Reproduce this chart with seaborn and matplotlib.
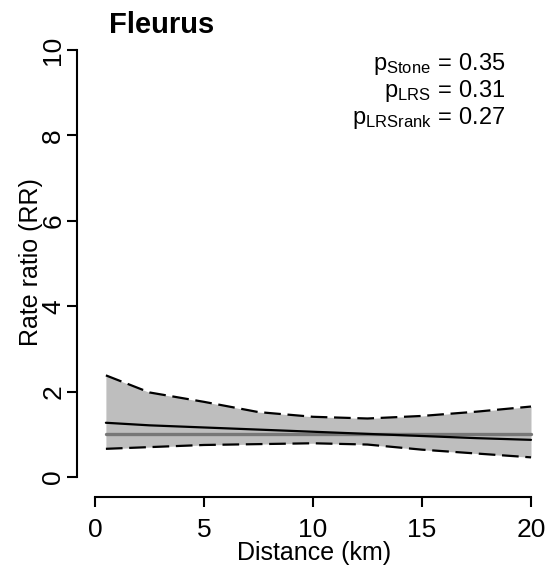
import matplotlib
matplotlib.use("Agg")
import matplotlib.pyplot as plt
import seaborn as sns
import pandas as pd

distance = [0.5, 2.5, 5, 7.5, 10, 12.5, 15, 17.5, 20]
rr = [1.27, 1.21, 1.16, 1.11, 1.06, 1.01, 0.96, 0.91, 0.87]
upper = [2.38, 1.98, 1.76, 1.52, 1.41, 1.37, 1.43, 1.53, 1.65]
lower = [0.66, 0.70, 0.75, 0.77, 0.79, 0.76, 0.64, 0.55, 0.46]
null_rr = [1.0] * len(distance)
xticks = [0, 5, 10, 15, 20]
yticks = [0, 2, 4, 6, 8, 10]
pvals = [("Stone", "0.35"), ("LRS", "0.31"), ("LRSrank", "0.27")]

sns.set_style("white")
plt.rcParams["font.family"] = ["Liberation Sans", "DejaVu Sans"]
plt.rcParams["mathtext.fontset"] = "custom"
plt.rcParams["mathtext.rm"] = "Liberation Sans"
plt.rcParams["mathtext.it"] = "Liberation Sans:italic"
plt.rcParams["mathtext.bf"] = "Liberation Sans:bold"
plt.rcParams["text.color"] = "black"

df = pd.DataFrame({"d": distance, "rr": rr, "up": upper, "lo": lower, "one": null_rr})

W, H = 549, 568
fig = plt.figure(figsize=(W / 100, H / 100), dpi=100)
L, R, T, B = 77, 545, 40, 497
ax = fig.add_axes([L / W, 1 - B / H, (R - L) / W, (B - T) / H])

ax.fill_between(df["d"], df["lo"], df["up"], color="#BEBEBE", lw=0, zorder=1)
sns.lineplot(data=df, x="d", y="one", ax=ax, color="#777777", lw=2.4, zorder=2)
sns.lineplot(data=df, x="d", y="rr", ax=ax, color="black", lw=1.6, zorder=3)
sns.lineplot(data=df, x="d", y="up", ax=ax, color="black", lw=1.6, zorder=3)
sns.lineplot(data=df, x="d", y="lo", ax=ax, color="black", lw=1.6, zorder=3)
for line in ax.lines[2:]:
    line.set_linestyle((0, (7.5, 3)))

# pixel mapping: x 0->95, 20->531 ; y 0->477, 10->50
xs = (531 - 95) / 20
ys = (477 - 50) / 10
ax.set_xlim((L - 95) / xs, (R - 95) / xs)
ax.set_ylim(-(B - 477) / ys, (477 - T) / ys)

for s in ["top", "right"]:
    ax.spines[s].set_visible(False)
ax.spines["left"].set_bounds(0, 10)
ax.spines["bottom"].set_bounds(0, 20)
for s in ["left", "bottom"]:
    ax.spines[s].set_linewidth(1.5)
    ax.spines[s].set_color("black")

ax.set_xticks(xticks)
ax.set_yticks(yticks)
ax.set_xticklabels([str(v) for v in xticks])
ax.set_yticklabels([str(v) for v in yticks], rotation=90, va="center")
ax.tick_params(axis="both", direction="out", length=7, width=1.5, colors="black",
               labelcolor="black", labelsize=19, left=True, bottom=True)
ax.tick_params(axis="x", pad=8)
ax.tick_params(axis="y", pad=1.5)
ax.set_xlabel("")
ax.set_ylabel("")

fig.text(314 / W, 1 - 553 / H, "Distance (km)", ha="center", va="center", fontsize=18)
fig.text(31 / W, 1 - 262 / H, "Rate ratio (RR)", ha="center", va="center",
         rotation=90, fontsize=18)
fig.text(109 / W, 1 - 33 / H, "Fleurus", ha="left", va="baseline",
         fontsize=21, fontweight="bold")

base = [70, 97, 124]
for (name, val), b in zip(pvals, base):
    fig.text(505 / W, 1 - b / H,
             r"$\mathrm{p}_{\mathrm{" + name + r"}}\,=\,\mathrm{" + val + r"}$",
             ha="right", va="baseline", fontsize=17)

fig.savefig("out.png", dpi=100)
